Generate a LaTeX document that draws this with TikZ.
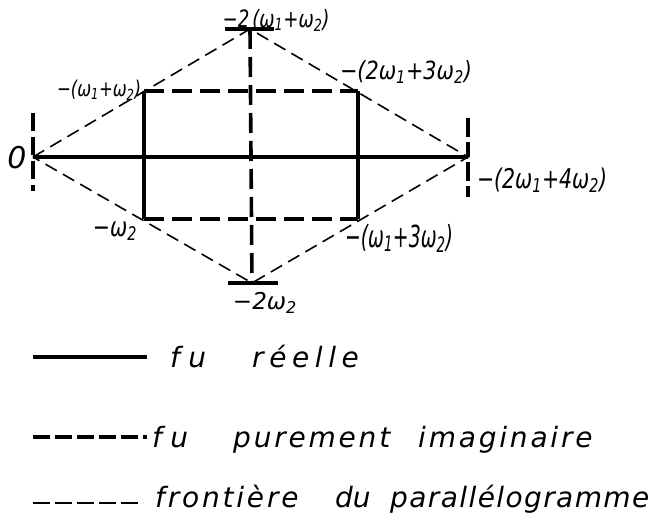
\documentclass[tikz,border=0pt]{standalone}
\usepackage{fontspec}
\usepackage{graphicx}
\setmainfont{DejaVu Sans}
\newfontfamily\hand[LetterSpace=10]{DejaVu Sans}
\newfontfamily\labfont{DejaVu Sans}
\newcommand{\wsub}[1]{\textsubscript{#1}}
\newcommand{\lsp}[2]{{\addfontfeature{LetterSpace=#1}#2}}
\begin{document}
\begin{tikzpicture}[x=1pt,y=-1pt,
  solidline/.style={line width=3.4pt},
  thickdash/.style={line width=3.6pt,dash pattern=on 20pt off 8pt},
  thindash/.style={line width=1.6pt,dash pattern=on 13pt off 7pt},
  lab/.style={font=\labfont\itshape\fontsize{20}{22}\selectfont,inner sep=0pt},
  leg/.style={font=\hand\itshape\fontsize{28}{30}\selectfont,anchor=base west,inner sep=0pt}]
\useasboundingbox (0,0) rectangle (667,522);
% key points
\coordinate (O) at (33,157);
\coordinate (R) at (468,157);
\coordinate (T) at (250,29);
\coordinate (B) at (252,283);
\coordinate (TL) at (144,91);
\coordinate (TR) at (358,91);
\coordinate (BL) at (144,219);
\coordinate (BR) at (358,219);
% tick ends
\coordinate (Ot) at (33,113); \coordinate (Ob) at (33,191);
\coordinate (Rt) at (468,118); \coordinate (Rb) at (468,197);
\coordinate (Tl) at (225,29); \coordinate (Tr) at (274,29);
\coordinate (Bl) at (228,283); \coordinate (Br) at (278,283);
% boundary of the parallelogram
\draw[thindash] (O) -- (T) -- (R) -- (B) -- cycle;
% real lines
\draw[solidline] (O) -- (R);
\draw[solidline] (TL) -- (BL);
\draw[solidline] (TR) -- (BR);
% purely imaginary lines
\draw[thickdash] (TL) -- (TR);
\draw[thickdash] (BL) -- (BR);
\draw[thickdash] (T) -- (B);
% ticks
\draw[thickdash,dash pattern=on 18pt off 6pt] (Ot) -- (Ob);
\draw[thickdash,dash pattern=on 19pt off 5pt on 15pt off 5pt] (Rt) -- (Rb);
\draw[solidline] (Tl) -- (Tr);
\draw[solidline] (Bl) -- (Br);
% labels
\node[lab] (l0) at (17,158) {\fontsize{30}{32}\selectfont 0};
\node[lab] (lT) at (276,20) {\resizebox*{107pt}{22pt}{−2\,(ω\wsub{1}+ω\wsub{2})}};
\node[lab] (lTL) at (99,90) {\resizebox*{84pt}{20pt}{−(ω\wsub{1}+ω\wsub{2})}};
\node[lab] (lTR) at (406,72) {\resizebox*{132pt}{23pt}{−(2ω\wsub{1}+3ω\wsub{2})}};
\node[lab] (lR) at (542,180) {\resizebox*{130pt}{25pt}{−(2ω\wsub{1}+4ω\wsub{2})}};
\node[lab] (lBR) at (399,238) {\resizebox*{108pt}{28pt}{−(ω\wsub{1}+3ω\wsub{2})}};
\node[lab] (lBL) at (115,231) {\resizebox*{44pt}{19pt}{−ω\wsub{2}}};
\node[lab] (lB) at (265,303) {\resizebox*{64pt}{21pt}{−2ω\wsub{2}}};
% legend
\coordinate (a1) at (33,357); \coordinate (a2) at (147,357);
\coordinate (b1) at (33,437); \coordinate (b2) at (147,437);
\coordinate (c1) at (33,503); \coordinate (c2) at (143,503);
\draw[line width=3.6pt] (a1) -- (a2);
\draw[line width=3.6pt,dash pattern=on 17pt off 5pt] (b1) -- (b2);
\draw[line width=2.2pt,dash pattern=on 17pt off 5pt] (c1) -- (c2);
\node[leg] (ta1) at (170,367) {\lsp{30}{fu}};
\node[leg] (ta2) at (252,367) {\lsp{20}{réelle}};
\node[leg] (tb1) at (152,447) {\lsp{30}{fu}};
\node[leg] (tb2) at (233,447) {\lsp{10}{purement}};
\node[leg] (tb3) at (418,447) {\lsp{10}{imaginaire}};
\node[leg] (tc1) at (155,507) {\lsp{10}{frontière}};
\node[leg] (tc2) at (335,507) {\lsp{0}{du}};
\node[leg] (tc3) at (390,507) {\lsp{5}{parallélogramme}};
\end{tikzpicture}
\end{document}
